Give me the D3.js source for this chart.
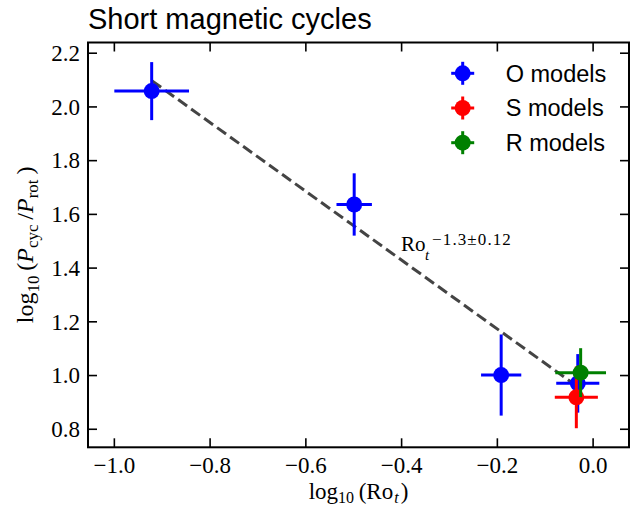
<!DOCTYPE html>
<html>
<head>
<meta charset="utf-8">
<script src="https://cdn.jsdelivr.net/npm/d3@7"></script>
<style>
body { margin: 0; background: #fff; }
text { fill: #000; }
</style>
</head>
<body>
<div id="container"></div>
<script>
// chart size
var width = 630, height = 507;
var margin = {top: 42.5, right: 1, bottom: 59.7, left: 88};

// data
var seriesNames = ["O models", "S models", "R models"];
var seriesColors = ["#0000ff", "#ff0000", "#008000"];
var oX = [-0.921, -0.498, -0.191, -0.031];
var oY = [2.057, 1.635, 1.0, 0.969];
var oXerr = [0.078, 0.037, 0.042, 0.045];
var oYerr = [0.108, 0.116, 0.151, 0.109];
var sX = [-0.034];
var sY = [0.917];
var sXerr = [0.045];
var sYerr = [0.115];
var rX = [-0.025];
var rY = [1.009];
var rXerr = [0.053];
var rYerr = [0.091];
var fitX = [-0.92, -0.03];
var fitY = [2.095, 0.955];
var xTicks = [-1.0, -0.8, -0.6, -0.4, -0.2, 0.0];
var yTicks = [0.8, 1.0, 1.2, 1.4, 1.6, 1.8, 2.0, 2.2];

var svg = d3.select("#container").append("svg")
	.attr("width", width)
	.attr("height", height);

var x = d3.scaleLinear().domain([-1.054, 0.076]).range([margin.left, width - margin.right]);
var y = d3.scaleLinear().domain([0.731, 2.238]).range([height - margin.bottom, margin.top]);

var x0 = x.range()[0], x1 = x.range()[1], y0 = y.range()[0], y1 = y.range()[1];
var tickLen = 9;
var fmt = d3.format(".1f");
var serif = "'Liberation Serif', 'DejaVu Serif', serif";
var sans = "'Liberation Sans', Arial, sans-serif";

// axes with inward ticks, all four sides
svg.append("g")
	.attr("class", "x axis")
	.attr("transform", "translate(0," + y0 + ")")
	.call(d3.axisBottom(x).tickValues(xTicks).tickFormat(fmt).tickSizeInner(-tickLen).tickSizeOuter(0).tickPadding(9.5));
svg.append("g")
	.attr("transform", "translate(0," + y1 + ")")
	.call(d3.axisTop(x).tickValues(xTicks).tickFormat("").tickSizeInner(-tickLen).tickSizeOuter(0));
svg.append("g")
	.attr("class", "y axis")
	.attr("transform", "translate(" + x0 + ",0)")
	.call(d3.axisLeft(y).tickValues(yTicks).tickFormat(fmt).tickSizeInner(-tickLen).tickSizeOuter(0).tickPadding(8));
svg.append("g")
	.attr("transform", "translate(" + x1 + ",0)")
	.call(d3.axisRight(y).tickValues(yTicks).tickFormat("").tickSizeInner(-tickLen).tickSizeOuter(0));

svg.selectAll(".domain").remove();
svg.selectAll(".tick line").attr("stroke", "#000").attr("stroke-width", 1.6);
svg.selectAll(".tick text")
	.style("font-family", serif)
	.style("font-size", "23px")
	.attr("fill", "#000");
svg.selectAll(".y.axis .tick text").attr("dy", "0.34em");

// frame
svg.append("rect")
	.attr("x", x0).attr("y", y1)
	.attr("width", x1 - x0).attr("height", y0 - y1)
	.attr("fill", "none").attr("stroke", "#000").attr("stroke-width", 2);

// fit line
svg.append("path")
	.attr("d", d3.line().x(function(d) { return x(d[0]); }).y(function(d) { return y(d[1]); })(d3.zip(fitX, fitY)))
	.attr("fill", "none")
	.attr("stroke", "#444")
	.attr("stroke-width", 3)
	.attr("stroke-dasharray", "11,5");

var lx = x(-0.4), ly = y(1.462);
var fitLabel = svg.append("text")
	.style("font-family", serif)
	.style("font-size", "21px")
	.attr("fill", "#555");
fitLabel.append("tspan").attr("x", lx).attr("y", ly).text("Ro");
fitLabel.append("tspan").attr("x", lx + 24).attr("y", ly + 9).style("font-size", "15px").style("font-style", "italic").text("t");
fitLabel.append("tspan").attr("x", lx + 31).attr("y", ly - 6).style("font-size", "17px").style("letter-spacing", "1.1px").text("\u22121.3\u00b10.12");

// error bars and points
function plotSeries(xs, ys, xe, ye, color) {
	var data = xs.map(function(v, i) { return {x: v, y: ys[i], xe: xe[i], ye: ye[i]}; });
	var g = svg.append("g");
	g.selectAll(".xerr").data(data).enter().append("line")
		.attr("x1", function(d) { return x(d.x - d.xe); })
		.attr("x2", function(d) { return x(d.x + d.xe); })
		.attr("y1", function(d) { return y(d.y); })
		.attr("y2", function(d) { return y(d.y); })
		.attr("stroke", color).attr("stroke-width", 3);
	g.selectAll(".yerr").data(data).enter().append("line")
		.attr("x1", function(d) { return x(d.x); })
		.attr("x2", function(d) { return x(d.x); })
		.attr("y1", function(d) { return y(d.y - d.ye); })
		.attr("y2", function(d) { return y(d.y + d.ye); })
		.attr("stroke", color).attr("stroke-width", 3);
	g.selectAll(".dot").data(data).enter().append("circle")
		.attr("cx", function(d) { return x(d.x); })
		.attr("cy", function(d) { return y(d.y); })
		.attr("r", 8)
		.attr("fill", color);
}
plotSeries(oX, oY, oXerr, oYerr, seriesColors[0]);
plotSeries(sX, sY, sXerr, sYerr, seriesColors[1]);
plotSeries(rX, rY, rXerr, rYerr, seriesColors[2]);

// legend
var legend = svg.append("g").attr("transform", "translate(462.7,73.3)");
var item = legend.selectAll(".item").data(seriesNames).enter().append("g")
	.attr("transform", function(d, i) { return "translate(0," + (i * 34.7) + ")"; });
item.append("line").attr("x1", -11.5).attr("x2", 11.5).attr("y1", 0).attr("y2", 0)
	.attr("stroke", function(d, i) { return seriesColors[i]; }).attr("stroke-width", 3);
item.append("line").attr("x1", 0).attr("x2", 0).attr("y1", -11.5).attr("y2", 11.5)
	.attr("stroke", function(d, i) { return seriesColors[i]; }).attr("stroke-width", 3);
item.append("circle").attr("r", 8).attr("fill", function(d, i) { return seriesColors[i]; });
item.append("text")
	.attr("x", 43)
	.attr("y", 8.3)
	.style("font-family", sans)
	.style("font-size", "23.5px")
	.text(function(d) { return d; });

// title
svg.append("text")
	.attr("x", x0)
	.attr("y", 29)
	.style("font-family", sans)
	.style("font-size", "29px")
	.text("Short magnetic cycles");

// axis labels
var xl = svg.append("text")
	.attr("x", (x0 + x1) / 2)
	.attr("y", 499)
	.attr("text-anchor", "middle")
	.style("font-family", serif)
	.style("font-size", "23px");
xl.append("tspan").text("log");
xl.append("tspan").attr("dy", 4).style("font-size", "16px").text("10");
xl.append("tspan").attr("dy", -4).text("\u2009(Ro");
xl.append("tspan").attr("dy", 4).attr("dx", 1).style("font-size", "16px").style("font-style", "italic").text("t");
xl.append("tspan").attr("dy", -4).attr("dx", 2).text(")");

var yl = svg.append("text")
	.attr("transform", "translate(33," + ((y0 + y1) / 2) + ") rotate(-90)")
	.attr("text-anchor", "middle")
	.style("font-family", serif)
	.style("font-size", "24px");
yl.append("tspan").text("log");
yl.append("tspan").attr("dy", 6).style("font-size", "17px").text("10");
yl.append("tspan").attr("dy", -6).text("\u2009(");
yl.append("tspan").style("font-style", "italic").text("P");
yl.append("tspan").attr("dy", 5).style("font-size", "17px").text("cyc");
yl.append("tspan").attr("dy", -5).text("\u2009/");
yl.append("tspan").style("font-style", "italic").text("P");
yl.append("tspan").attr("dy", 5).style("font-size", "17px").text("rot");
yl.append("tspan").attr("dy", -5).text("\u2009)");
</script>
</body>
</html>
